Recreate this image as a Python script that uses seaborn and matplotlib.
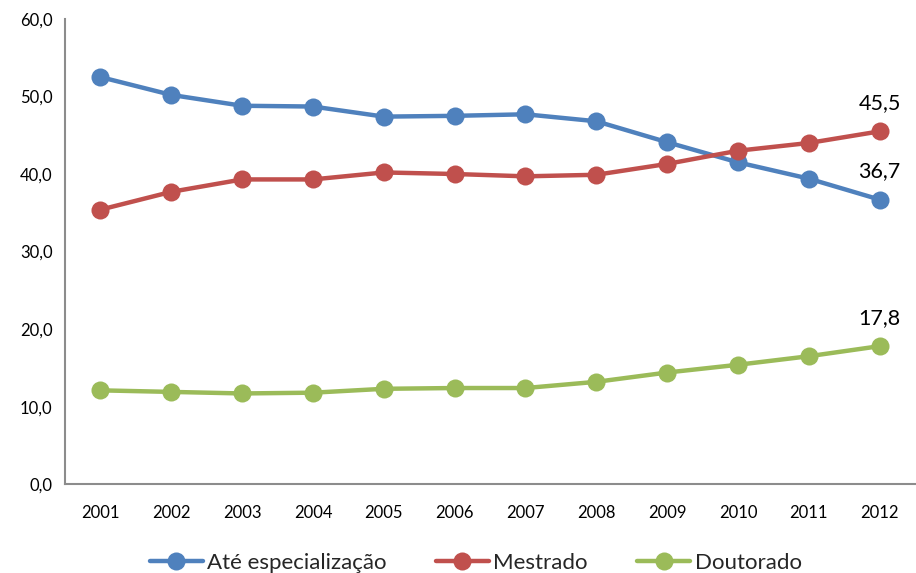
import pandas as pd
import matplotlib
matplotlib.use("Agg")
import matplotlib.pyplot as plt
import seaborn as sns

# ---------------- Data ----------------
years = ["2001", "2002", "2003", "2004", "2005", "2006",
         "2007", "2008", "2009", "2010", "2011", "2012"]
ate_especializacao = [52.5, 50.2, 48.8, 48.7, 47.4, 47.5, 47.7, 46.8, 44.1, 41.5, 39.4, 36.7]
mestrado = [35.4, 37.7, 39.3, 39.3, 40.2, 40.0, 39.7, 39.9, 41.3, 43.0, 44.0, 45.5]
doutorado = [12.1, 11.9, 11.7, 11.8, 12.3, 12.4, 12.4, 13.2, 14.4, 15.4, 16.5, 17.8]

series_names = ["Até especialização", "Mestrado", "Doutorado"]
colors = ["#4F81BD", "#C0504D", "#9BBB59"]

df = pd.DataFrame({
    "ano": years * 3,
    "valor": ate_especializacao + mestrado + doutorado,
    "serie": [s for s in series_names for _ in years],
})

# ---------------- Plot ----------------
sns.set_style("white")
plt.rcParams["font.family"] = ["Lato", "DejaVu Sans"]

fig = plt.figure(figsize=(9.16, 5.73), dpi=100)
ax = fig.add_axes([0.071, 0.155, 0.928, 0.812])

sns.lineplot(data=df, x="ano", y="valor", hue="serie", palette=colors,
             marker="o", markersize=13, markeredgewidth=0, linewidth=3.2,
             sort=False, ax=ax)

# label the last value of each series
for values in [ate_especializacao, mestrado, doutorado]:
    ax.annotate(f"{values[-1]:.1f}".replace(".", ","), (len(years) - 1, values[-1]),
                xytext=(0, 13), textcoords="offset points",
                ha="center", va="bottom", fontsize=15.5, color="black")

ax.set_ylim(0, 60)
ax.set_xlim(-0.5, len(years) - 0.5)
ax.set_yticks(range(0, 61, 10))
ax.set_yticklabels([f"{v:.1f}".replace(".", ",") for v in range(0, 61, 10)])
ax.tick_params(axis="both", length=0, labelsize=12, colors="black")
ax.tick_params(axis="x", pad=15)
ax.tick_params(axis="y", pad=9)
ax.set_xlabel("")
ax.set_ylabel("")

for side in ["top", "right"]:
    ax.spines[side].set_visible(False)
for side in ["left", "bottom"]:
    ax.spines[side].set_color("#8C8C8C")
    ax.spines[side].set_linewidth(1.5)

ax.legend(title=None, loc="upper center", bbox_to_anchor=(0.483, -0.105),
          ncol=3, frameon=False, fontsize=16, handlelength=2.4,
          handletextpad=0.2, columnspacing=2.2)

fig.savefig("out.png", dpi=100)
